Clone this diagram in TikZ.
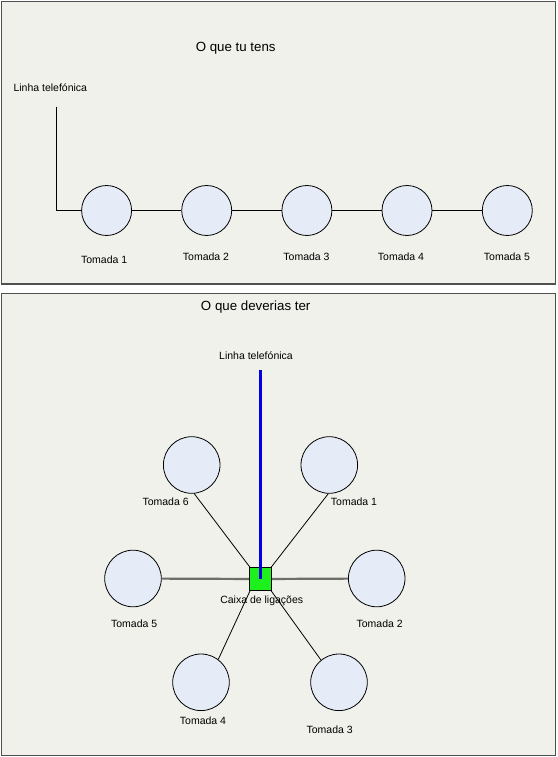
\documentclass[tikz,border=0pt]{standalone}
\usepackage{fontspec}
\setmainfont{Liberation Sans}
\usetikzlibrary{positioning}
\definecolor{tmfundo}{HTML}{F1F1EB}
\definecolor{tmborda}{HTML}{505050}
\definecolor{tmazul}{HTML}{E6ECF7}
\definecolor{tmverde}{HTML}{1EF01E}
\definecolor{tmcinza}{HTML}{6E6E68}
\definecolor{tmlinha}{HTML}{0000E0}

\begin{document}
\begin{tikzpicture}[x=1pt, y=-1pt,
  painel/.style={draw=tmborda, line width=1.2pt, fill=tmfundo},
  tomada/.style={circle, draw=black, line width=0.8pt, fill=tmazul,
    minimum size=50pt, inner sep=0pt},
  grande/.style={tomada, minimum size=56.6pt},
  caixa/.style={draw=black, line width=0.8pt, fill=tmverde,
    minimum size=22.7pt, inner sep=0pt},
  lab/.style={font=\fontsize{10.5}{12}\selectfont, inner sep=0pt,
    text height=7.5pt, text depth=0pt},
  titulo/.style={font=\fontsize{13.3}{15}\selectfont, inner sep=0pt,
    text height=9.5pt, text depth=0pt},
  fio/.style={black, line width=0.8pt},
  fiog/.style={tmcinza, line width=2.2pt},
  linha/.style={tmlinha, line width=3.3pt}]
\useasboundingbox (0,0) rectangle (557,757);
% o que tu tens
\draw[painel] (1.5,1.5) rectangle (555.5,284);
\node[titulo] (tit1) at (235.7,46.3) {O que tu tens};
\node[lab] (lin1) at (50.3,88) {Linha telefónica};
\coordinate (lt1) at (56.5,107);
\foreach \i/\x in {1/106.6, 2/206.7, 3/306.9, 4/407, 5/507.3}
  \node[tomada] (a\i) at (\x,210.5) {};
\node[lab] (la1) at (104.2,260) {Tomada 1};
\node[lab] (la2) at (206,257) {Tomada 2};
\node[lab] (la3) at (306.5,257) {Tomada 3};
\node[lab] (la4) at (401,257) {Tomada 4};
\node[lab] (la5) at (507,257) {Tomada 5};
\draw[fio] (lt1) |- (a1.west);
\foreach \i/\j in {1/2, 2/3, 3/4, 4/5}
  \draw[fio] (a\i) -- (a\j);
% o que deverias ter
\draw[painel] (1.5,293.5) rectangle (555.5,755.5);
\node[titulo] (tit2) at (255.7,305.7) {O que deverias ter};
\node[lab] (lin2) at (256,355.7) {Linha telefónica};
\coordinate (lt2) at (260.3,370);
\node[grande] (b6) at (191.7,465) {};
\node[grande] (b1) at (329.3,465) {};
\node[grande] (b5) at (133,578.5) {};
\node[grande] (b2) at (376.7,578.5) {};
\node[grande] (b4) at (201,682.3) {};
\node[grande] (b3) at (339,682.3) {};
\coordinate (cx) at (260.3,579);
\draw[fio] (b6.-85) -- ([xshift=-10pt,yshift=11.3pt]cx);
\draw[fio] (b1.-92) -- ([xshift=10.5pt,yshift=11.3pt]cx);
\draw[fio] (b4.53) -- ([xshift=-10pt,yshift=-11.3pt]cx);
\draw[fio] (b3.129) -- ([xshift=10.5pt,yshift=-11.3pt]cx);
\draw[fiog] (b5) -- (cx);
\draw[fiog] (b2) -- (cx);
\node[caixa] (cxa) at (cx) {};
\draw[linha] (lt2) -- (cxa.center);
\node[lab] (lb6) at (165.6,502) {Tomada 6};
\node[lab] (lb1) at (354,502) {Tomada 1};
\node[lab] (lb5) at (134.2,624) {Tomada 5};
\node[lab] (lb2) at (379.7,624) {Tomada 2};
\node[lab] (lb4) at (203,720.7) {Tomada 4};
\node[lab] (lb3) at (329.7,729.3) {Tomada 3};
\node[lab] (lcx) at (261.7,600) {Caixa de ligações};
\end{tikzpicture}
\end{document}
